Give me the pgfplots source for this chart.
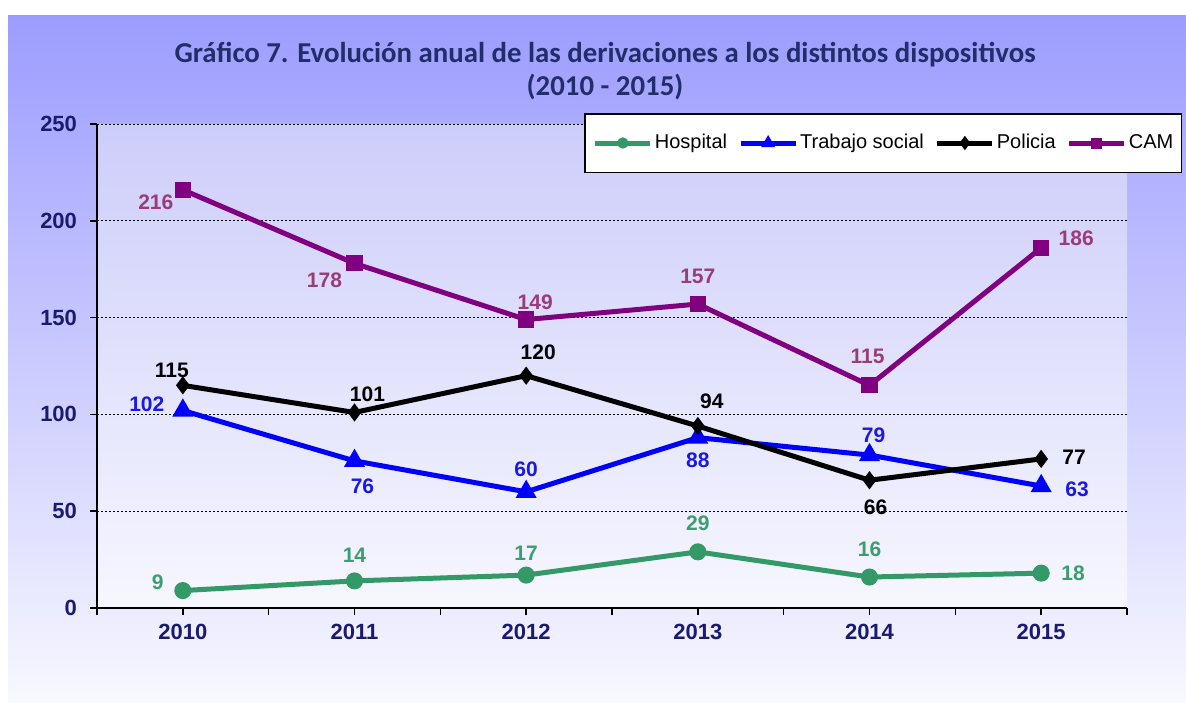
\documentclass[border=0pt]{standalone}
\usepackage{fontspec}
\setmainfont{Liberation Sans}
\newfontfamily\titlefont{Carlito}
\usepackage{pgfplots}
\pgfplotsset{compat=1.18}
\definecolor{panelTop}{RGB}{156,156,255}
\definecolor{panelBot}{RGB}{248,248,255}
\definecolor{plotTop}{RGB}{205,205,250}
\definecolor{plotBot}{RGB}{247,247,255}
\definecolor{navy}{RGB}{26,26,110}
\definecolor{titlecol}{RGB}{35,45,105}
\definecolor{hosp}{RGB}{51,153,102}
\definecolor{hosplab}{RGB}{60,158,110}
\definecolor{trab}{RGB}{0,0,255}
\definecolor{trablab}{RGB}{25,25,225}
\definecolor{cam}{RGB}{128,0,128}
\definecolor{camlab}{RGB}{153,60,120}

\pgfplotstableread{
x y dx dy
2010 9 -12.5 4
2011 14 0 13
2012 17 0 11
2013 29 0 14.5
2014 16 0 14
2015 18 16 0
}\hospital
\pgfplotstableread{
x y dx dy
2010 102 -18 3
2011 76 4 -12.5
2012 60 0 11.5
2013 88 0 -11.5
2014 79 2 10
2015 63 18 -1.5
}\trabajo
\pgfplotstableread{
x y dx dy
2010 115 -5.5 7.5
2011 101 6.5 9
2012 120 6 11.5
2013 94 7 12.5
2014 66 3 -13.5
2015 77 16.5 1
}\policia
\pgfplotstableread{
x y dx dy
2010 216 -13.5 -6
2011 178 -15 -8.5
2012 149 4.5 8.5
2013 157 0 14
2014 115 -1 14.5
2015 186 17.5 5
}\cam

\begin{document}
\begin{tikzpicture}[x=1pt,y=1pt]
\useasboundingbox (0,0) rectangle (593,351);
\fill[white] (0,0) rectangle (593,351);
\shade[top color=panelTop, bottom color=panelBot] (4,0) rectangle (593,343);
\node[titlecol, font=\titlefont\bfseries\fontsize{14.4}{16.5}\selectfont, align=center] at (302.5,315.25)
  {Gráfico 7. Evolución anual de las derivaciones a los distintos dispositivos\\(2010 - 2015)};
\begin{axis}[
  at={(48.5pt,47pt)}, anchor=south west,
  scale only axis, width=515pt, height=242pt,
  xmin=2009.5, xmax=2015.5, ymin=0, ymax=250,
  axis x line*=bottom, axis y line*=left,
  axis line style={black, line width=0.75pt},
  axis background/.style={top color=plotTop, bottom color=plotBot},
  xtick={2010,2011,2012,2013,2014,2015},
  xticklabels={2010,2011,2012,2013,2014,2015},
  minor xtick={2009.5,2010.5,2011.5,2012.5,2013.5,2014.5,2015.5},
  ytick={0,50,100,150,200,250},
  tick align=outside, major tick length=3.5pt, minor tick length=3.5pt,
  tick style={black, line width=0.75pt},
  ymajorgrids,
  major grid style={black, line width=0.5pt, dash pattern=on 1.2pt off 0.8pt},
  xticklabel style={font=\bfseries\fontsize{11}{13}\selectfont, text=navy, yshift=-1pt},
  yticklabel style={font=\bfseries\fontsize{11}{13}\selectfont, text=navy, xshift=-3pt, /pgf/number format/assume math mode=true},
  clip=false,
  nodes near coords,
  point meta=explicit,
  visualization depends on={\thisrow{dx} \as \dx},
  visualization depends on={\thisrow{dy} \as \dy},
  every node near coord/.append style={anchor=center, xshift=\dx pt, yshift=\dy pt, font=\bfseries\fontsize{10.5}{12}\selectfont, /pgf/number format/assume math mode=true},
  legend columns=4,
  legend style={at={(1.0534,1.0227)}, anchor=north east, draw=black, line width=0.75pt, fill=white,
    font=\fontsize{10}{12}\selectfont, inner xsep=4pt, inner ysep=8.25pt,
    nodes={inner xsep=0pt},
    /tikz/every even column/.append style={column sep=5.5pt},
    /tikz/every odd column/.append style={column sep=1pt}},
  legend image code/.code={\draw[mark repeat=2,mark phase=2,#1, mark size=1.5pt] plot coordinates {(0pt,0pt) (13.75pt,0pt) (27.5pt,0pt)};},
]
\addplot[hosp, line width=2.5pt, mark=*, mark size=3pt, mark options={solid}, nodes near coords style={text=hosplab}]
  table[x=x, y=y, meta=y]{\hospital};
\addlegendentry{Hospital}
\addplot[trab, line width=2.5pt, mark=triangle*, mark size=3.6pt, nodes near coords style={text=trablab}]
  table[x=x, y=y, meta=y]{\trabajo};
\addlegendentry{Trabajo social}
\addplot[black, line width=2.5pt, mark=diamond*, mark size=2.5pt, nodes near coords style={text=black}]
  table[x=x, y=y, meta=y]{\policia};
\addlegendentry{Policia}
\addplot[cam, line width=2.5pt, mark=square*, mark size=2.8pt, nodes near coords style={text=camlab}]
  table[x=x, y=y, meta=y]{\cam};
\addlegendentry{CAM}
\end{axis}
\end{tikzpicture}
\end{document}
